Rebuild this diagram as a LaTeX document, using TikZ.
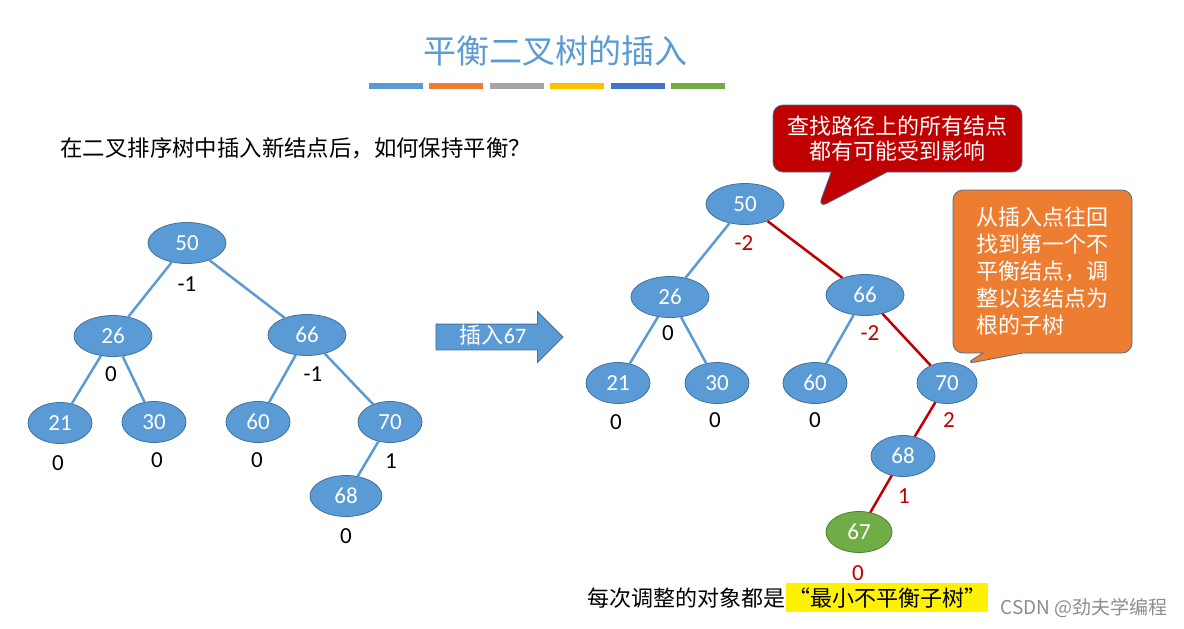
\documentclass[tikz,border=0pt]{standalone}
\usepackage{fontspec}
\setmainfont{Noto Sans CJK SC}
\newfontfamily\numfont{Carlito}
\usetikzlibrary{shapes, shapes.arrows, shapes.callouts}
\definecolor{nodeblue}{HTML}{5B9BD5}
\definecolor{nodeline}{HTML}{41719C}
\definecolor{darkred}{HTML}{C00000}
\definecolor{calloutorange}{HTML}{ED7D31}
\definecolor{newgreen}{HTML}{70AD47}
\definecolor{newline}{HTML}{507E32}
\definecolor{barone}{HTML}{5B9BD5}
\definecolor{bartwo}{HTML}{ED7D31}
\definecolor{barthree}{HTML}{A5A5A5}
\definecolor{barfour}{HTML}{FFC000}
\definecolor{barfive}{HTML}{4472C4}
\definecolor{barsix}{HTML}{70AD47}

\begin{document}
\begin{tikzpicture}[x=0.5pt, y=-0.5pt,
    tnode/.style={ellipse, draw=nodeline, fill=nodeblue, text=white, inner sep=0pt,
      minimum width=39pt, minimum height=20.5pt, font=\numfont\fontsize{11.5}{13}\selectfont},
    leaf/.style={tnode, minimum width=32pt},
    newnode/.style={tnode, minimum width=33pt, fill=newgreen, draw=newline},
    bal/.style={inner sep=0pt, font=\numfont\fontsize{11.5}{13}\selectfont},
    hot/.style={bal, text=darkred},
    edge/.style={draw=nodeblue, line width=1.25pt},
    redge/.style={draw=darkred, line width=1.25pt},
    tip/.style={rectangle callout, draw=nodeline, text=white, rounded corners=5pt,
      font=\fontsize{11}{12.5}\selectfont}]
  \useasboundingbox (0,0) rectangle (1184,628);

  \node[text=nodeblue, font=\fontsize{16.5}{18}\selectfont] (title) at (555,51) {平衡二叉树的插入};
  \foreach \c [count=\i] in {barone, bartwo, barthree, barfour, barfive, barsix}
    \fill[\c] (369+60.4*\i-60.4,83) rectangle ++(54,6);

  \node[anchor=west, inner sep=0pt, font=\fontsize{11.2}{13}\selectfont] (question) at (60,148)
    {在二叉排序树中插入新结点后，如何保持平衡？};

  % before
  \node[tnode] (a50) at (187,243) {50};
  \node[tnode] (a26) at (113,336) {26};
  \node[tnode] (a66) at (307,335) {66};
  \node[leaf] (a21) at (60,423) {21};
  \node[leaf] (a30) at (154,422) {30};
  \node[leaf] (a60) at (258,422) {60};
  \node[leaf] (a70) at (390,422) {70};
  \node[leaf, minimum width=36pt] (a68) at (346,496) {68};
  \draw[edge] (a50) -- (a26);
  \draw[edge] (a50) -- (a66);
  \draw[edge] (a26) -- (a21);
  \draw[edge] (a26) -- (a30);
  \draw[edge] (a66) -- (a60);
  \draw[edge] (a66) -- (a70);
  \draw[edge] (a70) -- (a68);
  \node[bal] (ba50) at (187,284) {-1};
  \node[bal] (ba26) at (111,374) {0};
  \node[bal] (ba66) at (313,374) {-1};
  \node[bal] (ba21) at (58,463) {0};
  \node[bal] (ba30) at (157,460) {0};
  \node[bal] (ba60) at (257,460) {0};
  \node[bal] (ba70) at (391,461) {1};
  \node[bal] (ba68) at (346,536) {0};

  \node[single arrow, draw=nodeline, fill=nodeblue, text=white, minimum height=63.5pt,
    single arrow head extend=6.25pt, inner ysep=0.5pt, text height=9pt, text depth=2.5pt,
    font=\fontsize{11}{12}\selectfont] (insert) at (493,337) {插入{\numfont 67}};

  % after
  \node[tnode] (b50) at (745,204) {50};
  \node[tnode] (b26) at (670,297) {26};
  \node[tnode] (b66) at (865,295) {66};
  \node[leaf] (b21) at (618,383) {21};
  \node[leaf] (b30) at (717,383) {30};
  \node[leaf] (b60) at (815,383) {60};
  \node[leaf, minimum width=30pt] (b70) at (947,383) {70};
  \node[leaf] (b68) at (903,456) {68};
  \node[newnode] (b67) at (859,532) {67};
  \draw[edge] (b50) -- (b26);
  \draw[redge] (b50) -- (b66);
  \draw[edge] (b26) -- (b21);
  \draw[edge] (b26) -- (b30);
  \draw[edge] (b66) -- (b60);
  \draw[redge] (b66) -- (b70);
  \draw[redge] (b70) -- (b68);
  \draw[redge] (b68) -- (b67);
  \node[hot] (bb50) at (744,243) {-2};
  \node[bal] (bb26) at (668,333) {0};
  \node[hot] (bb66) at (870,333) {-2};
  \node[bal] (bb21) at (616,422) {0};
  \node[bal] (bb30) at (715,420) {0};
  \node[bal] (bb60) at (815,420) {0};
  \node[hot] (bb70) at (949,420) {2};
  \node[hot] (bb68) at (904,496) {1};
  \node[hot] (bb67) at (858,573) {0};

  \node[tip, fill=darkred, minimum width=124.5pt, minimum height=33.5pt, align=center,
    callout absolute pointer={(818,208)}, callout pointer width=28pt] (pathnote) at (897.5,138.5)
    {查找路径上的所有结点\\都有可能受到影响};
  \node[tip, fill=calloutorange, minimum width=89.5pt, minimum height=81.5pt, align=left,
    font=\fontsize{11}{13.5}\selectfont,
    callout absolute pointer={(965,364)}, callout pointer width=20pt] (rootnote) at (1042.5,271.5)
    {从插入点往回\\找到第一个不\\平衡结点，调\\整以该结点为\\根的子树};

  \node[anchor=base east, inner sep=0pt, font=\fontsize{11}{13}\selectfont] (summary) at (786,606)
    {每次调整的对象都是};
  \node[anchor=base west, fill=yellow, inner xsep=1pt, inner ysep=2pt, font=\fontsize{11}{13}\selectfont]
    (smallest) at (summary.base east) {“最小不平衡子树”};
  \node[anchor=east, inner sep=0pt, text=black!45, font=\fontsize{9.5}{11}\selectfont] (csdn) at (1168,608)
    {CSDN @劲夫学编程};
\end{tikzpicture}
\end{document}
